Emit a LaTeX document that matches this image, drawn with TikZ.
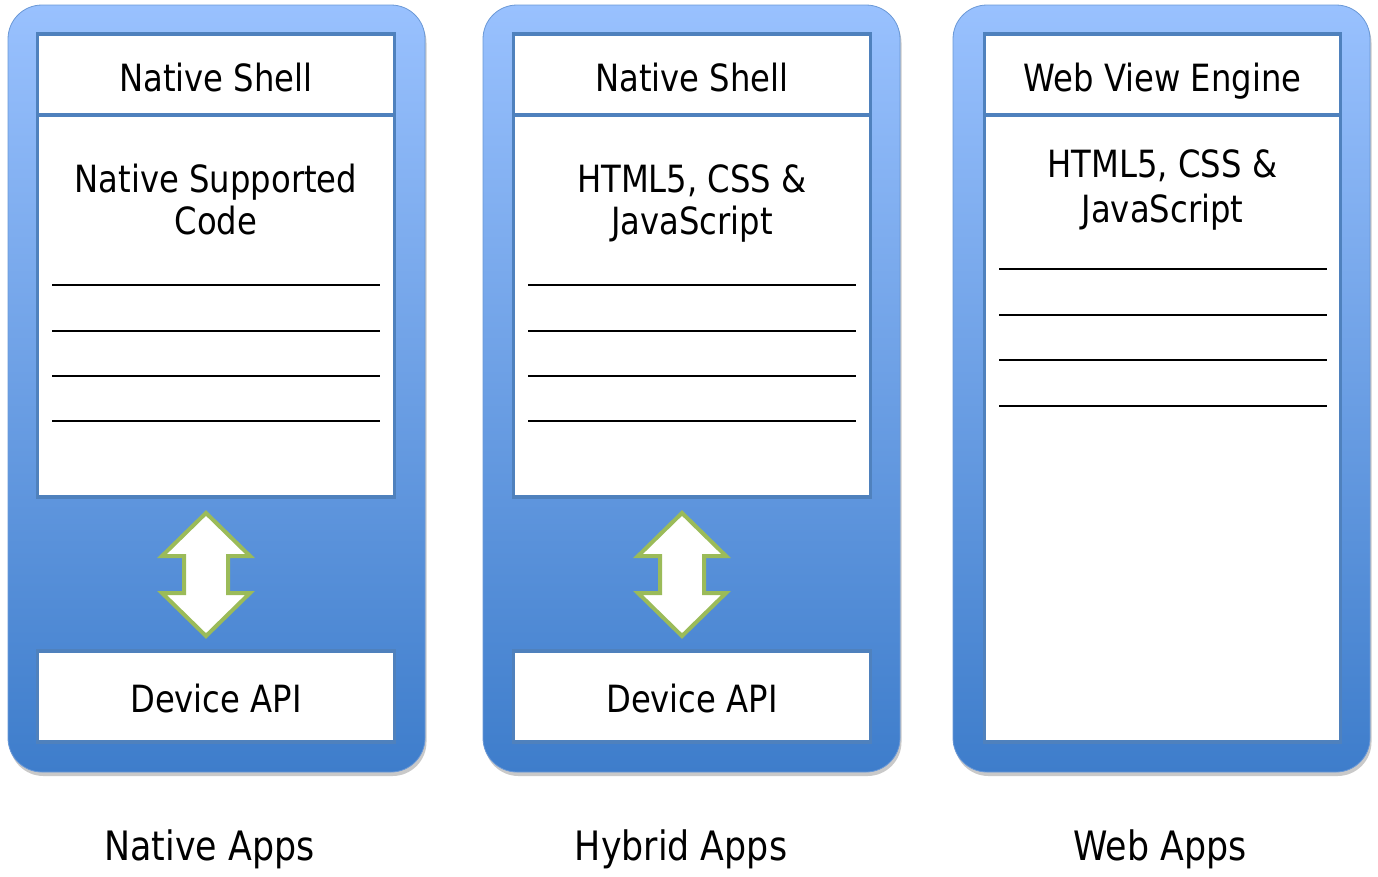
\documentclass[tikz,border=0pt]{standalone}
\usepackage{fontspec}
\setmainfont{DejaVu Sans}[FakeStretch=0.86]
\usetikzlibrary{shadows}
\definecolor{gtop}{HTML}{99C1FE}
\definecolor{gbot}{HTML}{3E7DCB}
\definecolor{inborder}{HTML}{4F81BD}
\definecolor{outborder}{HTML}{6A98D6}
\definecolor{arrowgreen}{HTML}{9BBB59}
\tikzset{
  panel/.style={rounded corners=34pt, top color=gtop, bottom color=gbot, draw=outborder, line width=0.8pt,
    drop shadow={shadow xshift=1.5pt, shadow yshift=-4pt, opacity=0.3, fill=black!70}},
  innerbox/.style={draw=inborder, fill=white, line width=3.5pt},
  divider/.style={draw=inborder, line width=3.5pt},
  blank/.style={draw=black, line width=2.6pt},
  dblarrow/.style={draw=arrowgreen, fill=white, line width=4pt, line join=miter},
  boxtext/.style={font=\fontsize{37.5}{44}\selectfont, anchor=base, inner sep=0pt},
  labeltext/.style={font=\fontsize{40.5}{48}\selectfont, anchor=base, inner sep=0pt}
}
\begin{document}
\begin{tikzpicture}[x=1pt,y=-1pt]
\useasboundingbox (0,0) rectangle (1378,876);
% ---------- Panel 1: Native ----------
\path[panel] (8,5) rectangle (425,772);
\draw[innerbox] (37.5,34) rectangle (394.5,497);
\draw[divider] (37.5,115) -- (394.5,115);
\draw[innerbox] (37.5,651) rectangle (394.5,742);
\node[boxtext] (ns1) at (216,91) {Native Shell};
\node[boxtext] (nsc1) at (216,192) {Native Supported};
\node[boxtext] (nsc2) at (216,234) {Code};
\foreach \yy in {285,331,376,421} \draw[blank] (52,\yy) -- (380,\yy);
\draw[dblarrow] (206,513) -- (250,556) -- (228,556) -- (228,593) -- (250,593) -- (206,636)
  -- (162,593) -- (184,593) -- (184,556) -- (162,556) -- cycle;
\node[boxtext] (api1) at (216,712) {Device API};
\node[labeltext] (lab1) at (209.5,860) {Native Apps};
% ---------- Panel 2: Hybrid ----------
\path[panel] (483,5) rectangle (900,772);
\draw[innerbox] (513.5,34) rectangle (870.5,497);
\draw[divider] (513.5,115) -- (870.5,115);
\draw[innerbox] (513.5,651) rectangle (870.5,742);
\node[boxtext] (ns2) at (692,91) {Native Shell};
\node[boxtext] (h21) at (692,192) {HTML5, CSS \&};
\node[boxtext] (h22) at (692,234) {JavaScript};
\foreach \yy in {285,331,376,421} \draw[blank] (528,\yy) -- (856,\yy);
\draw[dblarrow] (682,513) -- (726,556) -- (704,556) -- (704,593) -- (726,593) -- (682,636)
  -- (638,593) -- (660,593) -- (660,556) -- (638,556) -- cycle;
\node[boxtext] (api2) at (692,712) {Device API};
\node[labeltext] (lab2) at (681,860) {Hybrid Apps};
% ---------- Panel 3: Web ----------
\path[panel] (953,5) rectangle (1370,772);
\draw[innerbox] (984.5,34) rectangle (1340.5,742);
\draw[divider] (984.5,115) -- (1340.5,115);
\node[boxtext] (wv) at (1162.5,91) {Web View Engine};
\node[boxtext] (h31) at (1162.5,177) {HTML5, CSS \&};
\node[boxtext] (h32) at (1162.5,222) {JavaScript};
\foreach \yy in {269,315,360,406} \draw[blank] (999,\yy) -- (1327,\yy);
\node[labeltext] (lab3) at (1160,860) {Web Apps};
\end{tikzpicture}
\end{document}
